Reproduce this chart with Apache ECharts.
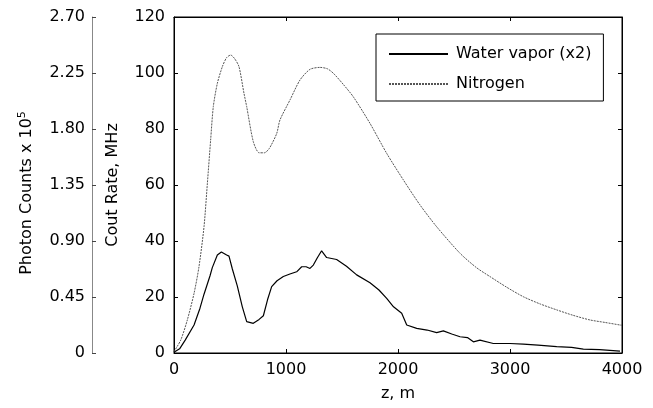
<!DOCTYPE html>
<html>
<head>
<meta charset="utf-8">
<script src="https://cdn.jsdelivr.net/npm/echarts@6/dist/echarts.min.js"></script>
<style>
html,body{margin:0;padding:0;background:#fff;}
#c{width:653px;height:408px;}
</style>
</head>
<body>
<div id="c"></div>
<script>
// Water vapor (x2) count rate, MHz
const wvZ = [0, 50, 100, 179, 232, 268, 321, 342, 387, 423, 470, 491, 521, 565, 610, 649, 708, 760, 798, 835, 872, 920, 976, 1035, 1095, 1140, 1180, 1214, 1244, 1280, 1318, 1363, 1452, 1540, 1631, 1750, 1830, 1899, 1960, 2033, 2078, 2167, 2260, 2345, 2405, 2480, 2554, 2620, 2673, 2732, 2851, 3000, 3119, 3250, 3417, 3550, 3655, 3800, 3982];
const wvVal = [0.3, 1.5, 4.6, 10, 16, 21, 27.5, 30.5, 35, 36.1, 35, 34.6, 30, 24, 16.5, 11.2, 10.6, 12, 13.3, 19, 23.7, 25.8, 27.3, 28.2, 29, 30.8, 30.8, 30.2, 31.4, 34, 36.5, 34.1, 33.4, 31, 27.9, 25.1, 22.5, 19.5, 16.5, 14.2, 10, 8.8, 8.2, 7.3, 7.9, 6.8, 5.8, 5.5, 4.0, 4.6, 3.4, 3.4, 3.2, 2.8, 2.3, 2.0, 1.4, 1.2, 0.7];
// Nitrogen count rate, MHz
const n2Z = [0, 60, 119, 179, 223, 268, 298, 327, 351, 387, 432, 470, 506, 540, 580, 625, 649, 708, 760, 806, 850, 917, 946, 1036, 1125, 1214, 1304, 1370, 1423, 1510, 1601, 1750, 1899, 2048, 2196, 2345, 2554, 2700, 2821, 2970, 3119, 3270, 3417, 3560, 3714, 3850, 3982, 4000];
const n2Val = [0.5, 4.6, 11.8, 21.3, 30.8, 45.1, 60.6, 76, 88, 96.3, 102.3, 105.5, 106.4, 105.2, 102.3, 92.7, 88, 75.5, 71.5, 71.5, 73, 78.4, 83.2, 90.4, 97.5, 101.3, 102, 101.5, 99.9, 96, 91.5, 82, 71.3, 61.8, 52.9, 45.1, 35.6, 30.5, 27.3, 23.5, 20.1, 17.5, 15.4, 13.5, 11.8, 10.9, 10, 9.9];
// Tick labels
const photonTicks = ['0', '0.45', '0.90', '1.35', '1.80', '2.25', '2.70'];
const zTicks = ['0', '1000', '2000', '3000', '4000'];
const seriesNames = ['Water vapor (x2)', 'Nitrogen'];

const FONT = 'DejaVu Sans';
const chart = echarts.init(document.getElementById('c'), null, {renderer: 'canvas'});
const pairs = (xs, ys) => xs.map((x, i) => [x, ys[i]]);

const boxAxis = () => ({
  show: true,
  axisLine: {show: true, onZero: false, lineStyle: {color: '#000', width: 1}},
  axisTick: {show: true, inside: true, length: 4, lineStyle: {color: '#000'}},
  splitLine: {show: false}
});

chart.setOption({
  animation: false,
  backgroundColor: '#fff',
  textStyle: {fontFamily: FONT},
  grid: {left: 174, right: 31, top: 17, bottom: 55, containLabel: false,
    show: true, borderColor: '#000', borderWidth: 1, backgroundColor: 'transparent'},
  legend: {
    orient: 'vertical',
    left: 376, top: 34,
    padding: [12, 12, 9, 12],
    itemWidth: 59, itemHeight: 14, itemGap: 14,
    borderColor: '#000', borderWidth: 1,
    backgroundColor: '#fff',
    itemStyle: {opacity: 0},
    textStyle: {fontFamily: FONT, fontSize: 16, color: '#000', padding: [0, 0, 0, 3]},
    data: seriesNames
  },
  xAxis: [
    Object.assign(boxAxis(), {
      type: 'value', min: 0, max: 4000, interval: 1000, position: 'bottom',
      axisLabel: {fontFamily: FONT, fontSize: 16, color: '#000', margin: 9,
        formatter: (v) => zTicks[Math.round(v / 1000)]},
      name: 'z, m', nameLocation: 'middle', nameGap: 33,
      nameTextStyle: {fontFamily: FONT, fontSize: 16, color: '#000'}
    }),
    Object.assign(boxAxis(), {
      type: 'value', min: 0, max: 4000, interval: 1000, position: 'top',
      axisLabel: {show: false}
    })
  ],
  yAxis: [
    Object.assign(boxAxis(), {
      type: 'value', min: 0, max: 120, interval: 20, position: 'left',
      axisLabel: {fontFamily: FONT, fontSize: 16, color: '#000', margin: 9},
      name: 'Cout Rate, MHz', nameLocation: 'middle', nameGap: 53, nameRotate: 90,
      nameTextStyle: {fontFamily: FONT, fontSize: 16, color: '#000'}
    }),
    Object.assign(boxAxis(), {
      type: 'value', min: 0, max: 120, interval: 20, position: 'right',
      axisLabel: {show: false}
    }),
    {
      type: 'value', min: 0, max: 2.7, interval: 0.45, position: 'left', offset: 82,
      axisLine: {show: true, onZero: false, lineStyle: {color: '#888', width: 1}},
      axisTick: {show: true, inside: true, length: 4, lineStyle: {color: '#444'}},
      splitLine: {show: false},
      axisLabel: {
        fontFamily: FONT, fontSize: 16, color: '#000', margin: 7,
        formatter: (v) => photonTicks[Math.round(v / 0.45)]
      },
      name: 'Photon Counts x 10{sup|5}', nameLocation: 'middle', nameGap: 56, nameRotate: 90,
      nameTextStyle: {
        fontFamily: FONT, fontSize: 16, color: '#000', padding: [0, 16, 0, 0],
        rich: {sup: {fontFamily: FONT, fontSize: 11, color: '#000', padding: [0, 0, 8, 0]}}
      }
    }
  ],
  series: [
    {
      name: seriesNames[0], type: 'line', xAxisIndex: 0, yAxisIndex: 0,
      data: pairs(wvZ, wvVal), showSymbol: false, symbol: 'none',
      lineStyle: {color: '#000', width: 1.2, type: 'solid'},
      itemStyle: {color: '#000'}
    },
    {
      name: seriesNames[1], type: 'line', xAxisIndex: 0, yAxisIndex: 0,
      data: pairs(n2Z, n2Val), showSymbol: false, symbol: 'none', smooth: 0.25,
      lineStyle: {color: '#555', width: 1, type: [2, 1]},
      itemStyle: {color: '#555'}
    }
  ]
});
</script>
</body>
</html>
